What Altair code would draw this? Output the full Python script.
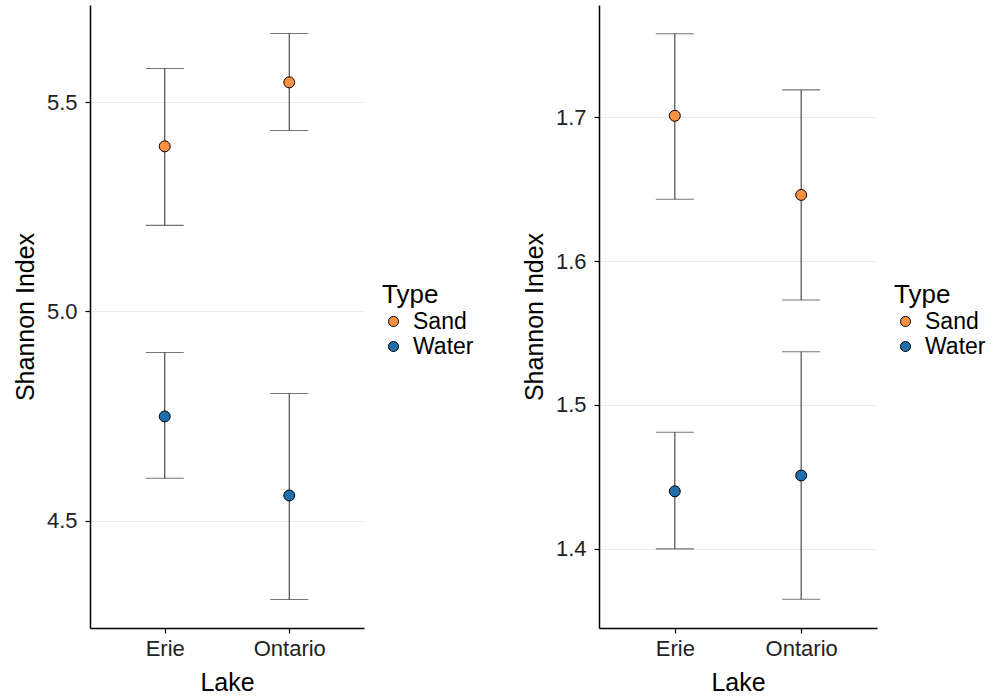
import altair as alt
import pandas as pd

lakes = ["Erie", "Ontario", "Erie", "Ontario"]
types = ["Sand", "Sand", "Water", "Water"]

left_mean = [5.395, 5.548, 4.749, 4.560]
left_lo = [5.206, 5.433, 4.601, 4.311]
left_hi = [5.581, 5.665, 4.902, 4.804]
left_ticks = [4.5, 5.0, 5.5]
left_domain = [4.243, 5.733]

right_mean = [1.701, 1.646, 1.440, 1.451]
right_lo = [1.643, 1.573, 1.400, 1.365]
right_hi = [1.758, 1.719, 1.481, 1.537]
right_ticks = [1.4, 1.5, 1.6, 1.7]
right_domain = [1.345, 1.778]

type_names = ["Sand", "Water"]
type_colors = ["#FD9143", "#1F6FAE"]

FONT = "Liberation Sans"


def panel(mean, lo, hi, ticks, domain, width, legend_x):
    df = pd.DataFrame({"Lake": lakes, "Type": types, "mean": mean, "lo": lo, "hi": hi})
    base = alt.Chart(df)
    xenc = alt.X(
        "Lake:N",
        sort=["Erie", "Ontario"],
        scale=alt.Scale(type="point", padding=0.6),
        axis=alt.Axis(title="Lake", labelAngle=0, grid=False),
    )
    yscale = alt.Scale(domain=domain, nice=False, zero=False)
    yaxis = alt.Axis(title="Shannon Index", values=ticks, format=".1f", grid=True)

    rule = base.mark_rule(color="#3c3c3c", strokeWidth=1.1).encode(
        x=xenc,
        y=alt.Y("lo:Q", scale=yscale, axis=yaxis, title="Shannon Index"),
        y2="hi:Q",
    )
    cap_hi = base.mark_tick(color="#3c3c3c", size=38, thickness=1.1).encode(
        x=xenc, y=alt.Y("hi:Q", scale=yscale, axis=yaxis, title="Shannon Index")
    )
    cap_lo = base.mark_tick(color="#3c3c3c", size=38, thickness=1.1).encode(
        x=xenc, y=alt.Y("lo:Q", scale=yscale, axis=yaxis, title="Shannon Index")
    )
    pts = base.mark_point(
        filled=True, shape="circle", size=120, stroke="black", strokeWidth=1, opacity=1
    ).encode(
        x=xenc,
        y=alt.Y("mean:Q", scale=yscale, axis=yaxis, title="Shannon Index"),
        color=alt.Color(
            "Type:N",
            scale=alt.Scale(domain=type_names, range=type_colors),
            legend=alt.Legend(
                title="Type",
                orient="none",
                legendX=legend_x,
                legendY=277,
                symbolType="circle",
                symbolSize=100,
                symbolStrokeColor="black",
                symbolStrokeWidth=1,
                symbolOpacity=1,
            ),
        ),
    )
    return alt.layer(rule, cap_hi, cap_lo, pts).properties(width=width, height=623)


left = panel(left_mean, left_lo, left_hi, left_ticks, left_domain, 274, 292)
right = panel(right_mean, right_lo, right_hi, right_ticks, right_domain, 278, 295)

chart = (
    alt.hconcat(left, right, spacing=48)
    .resolve_scale(color="independent")
    .resolve_legend(color="independent")
    .properties(padding={"left": 13, "top": 5, "right": 0, "bottom": 0})
    .configure(font=FONT)
    .configure_view(stroke=None)
    .configure_axis(
        labelFont=FONT,
        titleFont=FONT,
        labelFontSize=22,
        titleFontSize=25,
        titleFontWeight="normal",
        labelColor="#222222",
        titleColor="#000000",
        domainColor="#000000",
        domainWidth=1.5,
        tickColor="#000000",
        tickSize=5,
        tickWidth=1.2,
        gridColor="#EBEBEB",
        gridWidth=1,
    )
    .configure_axisY(labelPadding=8, titlePadding=8)
    .configure_axisX(labelPadding=5, titlePadding=11)
    .configure_legend(
        titleFont=FONT,
        labelFont=FONT,
        titleFontSize=26,
        labelFontSize=23,
        titleFontWeight="normal",
        titleColor="#000000",
        labelColor="#000000",
        rowPadding=1,
        titlePadding=2,
        labelOffset=8,
    )
)

chart.save("out.html", embed_options={"renderer": "svg", "actions": False})
